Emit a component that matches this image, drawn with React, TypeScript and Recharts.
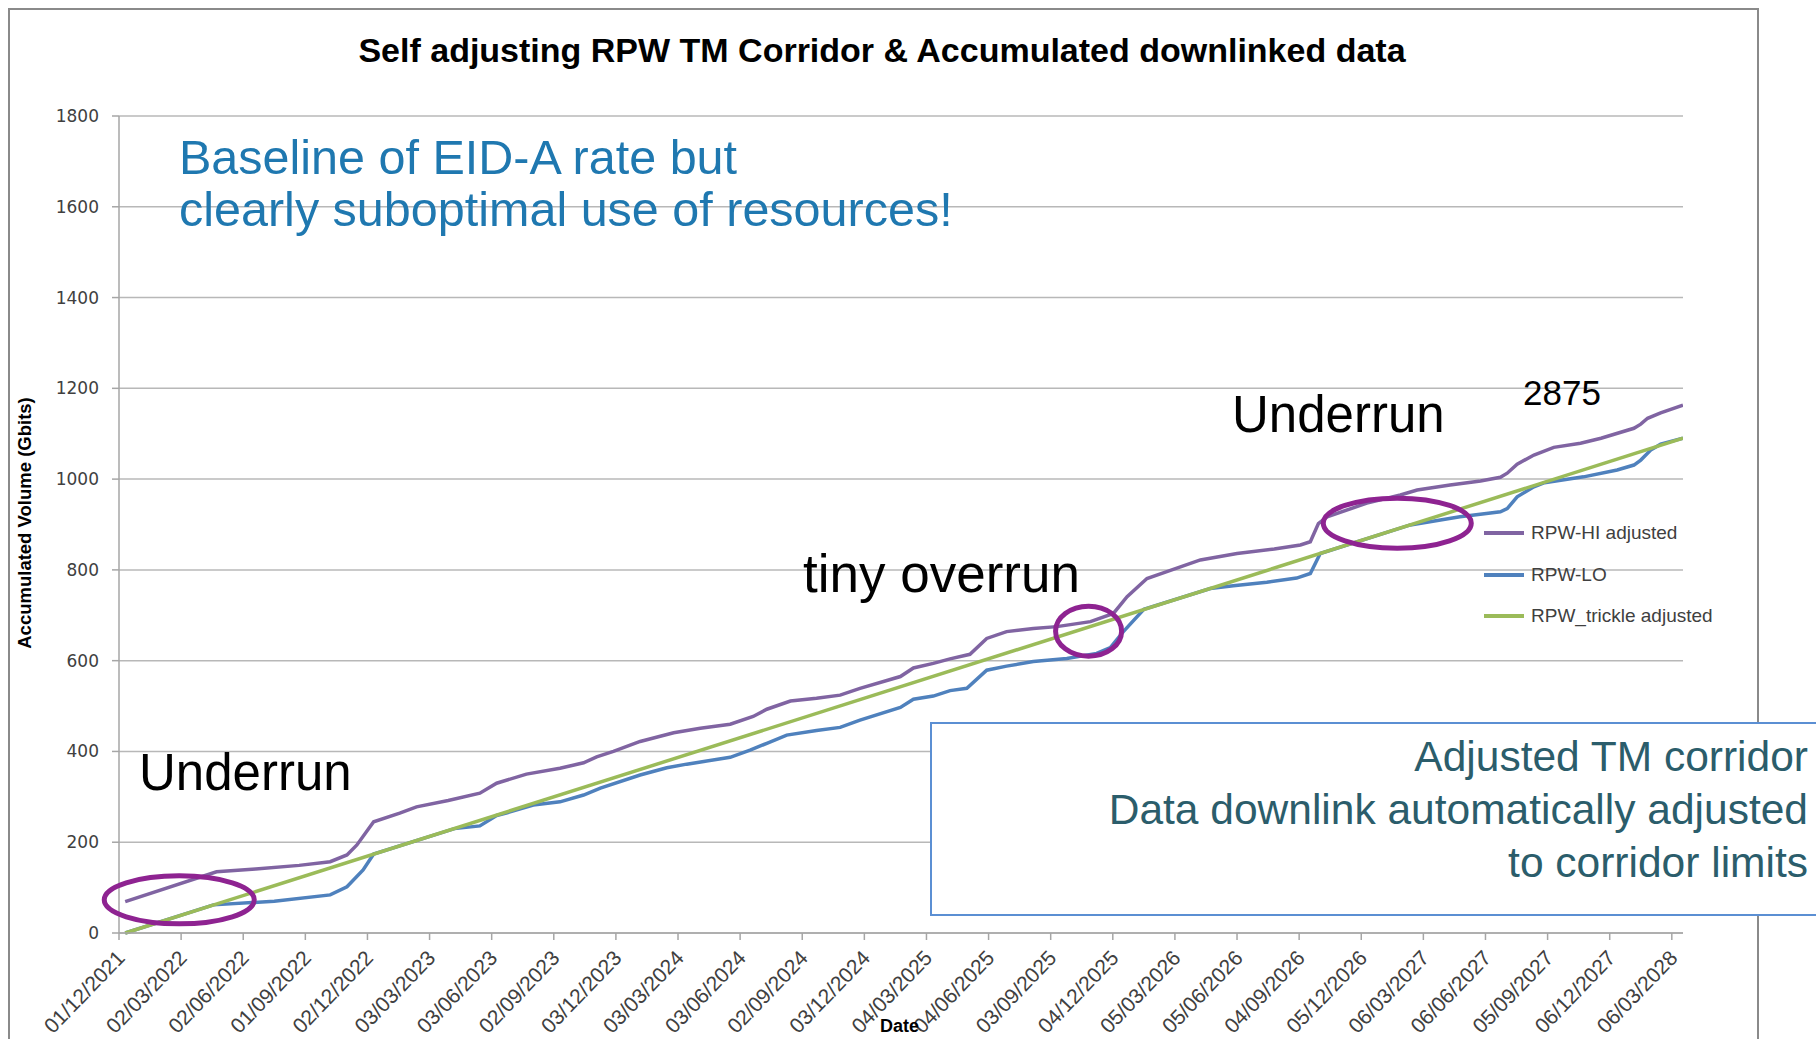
import { CartesianGrid, Line, LineChart, ReferenceDot, XAxis, YAxis } from "recharts";

// x positions are in "quarters" since 01/12/2021 (one tick label per quarter)
const dateLabels = [
  "01/12/2021", "02/03/2022", "02/06/2022", "01/09/2022", "02/12/2022", "03/03/2023",
  "03/06/2023", "02/09/2023", "03/12/2023", "03/03/2024", "03/06/2024", "02/09/2024",
  "03/12/2024", "04/03/2025", "04/06/2025", "03/09/2025", "04/12/2025", "05/03/2026",
  "05/06/2026", "04/09/2026", "05/12/2026", "06/03/2027", "06/06/2027", "05/09/2027",
  "06/12/2027", "06/03/2028",
];
const volumeTicks = [0, 200, 400, 600, 800, 1000, 1200, 1400, 1600, 1800];

const hiQuarter = [
  0.1, 1.57, 2.2, 2.9, 3.4, 3.67, 3.83, 4.1, 4.52, 4.79, 5.3, 5.81, 6.08, 6.56, 7.1, 7.48,
  7.69, 7.96, 8.39, 8.93, 9.36, 9.84, 10.21, 10.43, 10.81, 11.23, 11.61, 11.93, 12.58, 12.79,
  13.11, 13.38, 13.7, 13.97, 14.29, 14.72, 15.1, 15.64, 16.01, 16.23, 16.55, 16.87, 17.41,
  18.0, 18.6, 19.02, 19.18, 19.31, 19.45, 20.09, 20.63, 20.9, 21.43, 21.92, 22.24, 22.35,
  22.51, 22.78, 23.1, 23.53, 23.86, 24.39, 24.5, 24.61, 24.82, 25.18,
];
const hiVolume = [
  69, 135, 141, 149, 157, 172, 194, 245, 264, 278, 292, 308, 330, 350, 363, 375,
  388, 400, 422, 441, 451, 460, 477, 493, 511, 517, 524, 539, 565, 584,
  594, 604, 614, 649, 664, 671, 675, 686, 704, 741, 781, 796, 822,
  836, 846, 855, 862, 902, 917, 947, 965, 976, 987, 996, 1004, 1013,
  1033, 1053, 1070, 1079, 1090, 1112, 1121, 1134, 1146, 1163,
];

const loQuarter = [
  0.1, 1.52, 2.5, 3.4, 3.67, 3.93, 4.1, 5.4, 5.81, 6.08, 6.25, 6.67, 7.1, 7.48, 7.75, 8.39,
  8.82, 9.14, 9.84, 10.16, 10.43, 10.75, 11.23, 11.61, 11.93, 12.58, 12.79, 13.11, 13.38,
  13.65, 13.97, 14.29, 14.72, 15.26, 15.74, 15.96, 16.17, 16.5, 17.57, 17.94, 18.48, 18.96,
  19.18, 19.34, 20.79, 21.59, 22.24, 22.35, 22.51, 22.78, 22.95, 23.58, 24.12, 24.39, 24.5,
  24.66, 24.82, 25.18,
];
const loVolume = [
  0, 62, 70, 84, 102, 139, 174, 230, 236, 259, 265, 282, 289, 304, 319, 348,
  364, 372, 387, 403, 418, 436, 446, 453, 469, 497, 515, 522, 534,
  539, 579, 588, 598, 605, 616, 629, 664, 713, 759, 765, 773, 782,
  792, 836, 899, 917, 928, 935, 961, 983, 992, 1005, 1020, 1031, 1042,
  1064, 1077, 1090,
];

const trickleQuarter = [0.1, 25.18];
const trickleVolume = [0, 1090];

const toPoints = (qs: number[], vs: number[]) => qs.map((q, i) => ({ q, v: vs[i] }));
const hiData = toPoints(hiQuarter, hiVolume);
const loData = toPoints(loQuarter, loVolume);
const trickleData = toPoints(trickleQuarter, trickleVolume);

const series = [
  { name: "RPW-HI adjusted", color: "#8064A2", data: hiData },
  { name: "RPW-LO", color: "#4F81BD", data: loData },
  { name: "RPW_trickle adjusted", color: "#9BBB59", data: trickleData },
];

// annotation rings, centred in chart units
const rings = [
  { q: 0.97, v: 73, rx: 75, ry: 24 },
  { q: 15.61, v: 665, rx: 33, ry: 25 },
  { q: 20.58, v: 903, rx: 74, ry: 25 },
];

const sans = "'Liberation Sans', Arial, sans-serif";

function DateTick({ x, y, payload }: any) {
  return (
    <g transform={`translate(${x + 7},${y + 17})`}>
      <text transform="rotate(-46)" textAnchor="end" fontFamily={sans} fontSize={21} fill="#404040">
        {dateLabels[payload.value]}
      </text>
    </g>
  );
}

function LegendBox() {
  return (
    <div style={{ position: "absolute", left: 1484, top: 512, fontFamily: sans, fontSize: 19, color: "#404040", whiteSpace: "nowrap" }}>
      {series.map((s) => (
        <div key={s.name} style={{ display: "flex", alignItems: "center", height: 41.7 }}>
          <span style={{ width: 40, height: 4, background: s.color, marginRight: 7 }} />
          {s.name}
        </div>
      ))}
    </div>
  );
}

const label = (style: React.CSSProperties) => ({ position: "absolute" as const, whiteSpace: "nowrap" as const, ...style });

export default function App() {
  return (
    <div style={{ position: "fixed", left: 0, top: 0, width: 1816, height: 1039, overflow: "hidden", background: "#fff" }}>
      <div style={{ position: "absolute", left: 8, top: 8, width: 1747, height: 1100, border: "2px solid #8a8a8a" }} />

      <LineChart width={1816} height={1039} margin={{ top: 116, right: 133, bottom: 0, left: 0 }} style={{ position: "absolute", left: 0, top: 0 }}>
        <CartesianGrid horizontal vertical={false} stroke="#b8b8b8" strokeWidth={1.5} />
        <XAxis
          type="number"
          dataKey="q"
          domain={[0, 25.18]}
          ticks={dateLabels.map((_, i) => i)}
          interval={0}
          height={106}
          stroke="#a6a6a6"
          strokeWidth={1.5}
          tickSize={7}
          tick={<DateTick />}
          allowDataOverflow
        />
        <YAxis
          type="number"
          dataKey="v"
          domain={[0, 1800]}
          ticks={volumeTicks}
          width={119}
          stroke="#a6a6a6"
          strokeWidth={1.5}
          tickSize={7}
          tickMargin={13}
          tick={{ fontFamily: "'DejaVu Sans', Verdana, sans-serif", fontSize: 17, fill: "#404040" }}
        />
        {series.map((s) => (
          <Line
            key={s.name}
            data={s.data}
            dataKey="v"
            name={s.name}
            stroke={s.color}
            strokeWidth={3.5}
            dot={false}
            type="linear"
            isAnimationActive={false}
          />
        ))}
        {rings.map((r, i) => (
          <ReferenceDot
            key={i}
            x={r.q}
            y={r.v}
            r={1}
            ifOverflow="visible"
            shape={(p: any) => (
              <ellipse cx={p.cx} cy={p.cy} rx={r.rx} ry={r.ry} fill="none" stroke="#8E2391" strokeWidth={5} />
            )}
          />
        ))}
      </LineChart>

      <LegendBox />

      <div style={label({ left: 0, width: 1764, top: 31, textAlign: "center", fontFamily: sans, fontWeight: 700, fontSize: 34, color: "#000" })}>
        Self adjusting RPW TM Corridor &amp; Accumulated downlinked data
      </div>
      <div
        style={label({
          left: 25,
          top: 523,
          transform: "translate(-50%, -50%) rotate(-90deg)",
          fontFamily: sans,
          fontWeight: 700,
          fontSize: 18.5,
          color: "#000",
        })}
      >
        Accumulated Volume (Gbits)
      </div>
      <div style={label({ left: 880, top: 1016, fontFamily: sans, fontWeight: 700, fontSize: 18, color: "#000" })}>Date</div>

      <div style={label({ left: 179, top: 131, fontFamily: sans, fontSize: 48.5, lineHeight: "52px", color: "#1F78B0" })}>
        Baseline of EID-A rate but
        <br />
        clearly suboptimal use of resources!
      </div>

      <div style={label({ left: 139, top: 747, fontFamily: sans, fontSize: 51, lineHeight: 1, color: "#000" })}>Underrun</div>
      <div style={label({ left: 803, top: 547, fontFamily: sans, fontSize: 53, lineHeight: 1, color: "#000" })}>tiny overrun</div>
      <div style={label({ left: 1232, top: 389, fontFamily: sans, fontSize: 51, lineHeight: 1, color: "#000" })}>Underrun</div>
      <div style={label({ left: 1523, top: 375, fontFamily: sans, fontSize: 35, lineHeight: 1, color: "#000" })}>2875</div>

      <div
        style={label({
          left: 930,
          top: 722,
          width: 876,
          height: 184,
          paddingRight: 24,
          paddingTop: 6,
          background: "#fff",
          border: "2px solid #5B8FD3",
          textAlign: "right",
          fontFamily: sans,
          fontSize: 42.5,
          lineHeight: "53px",
          color: "#2B5D6B",
        })}
      >
        Adjusted TM corridor
        <br />
        Data downlink automatically adjusted
        <br />
        to corridor limits
      </div>
    </div>
  );
}
